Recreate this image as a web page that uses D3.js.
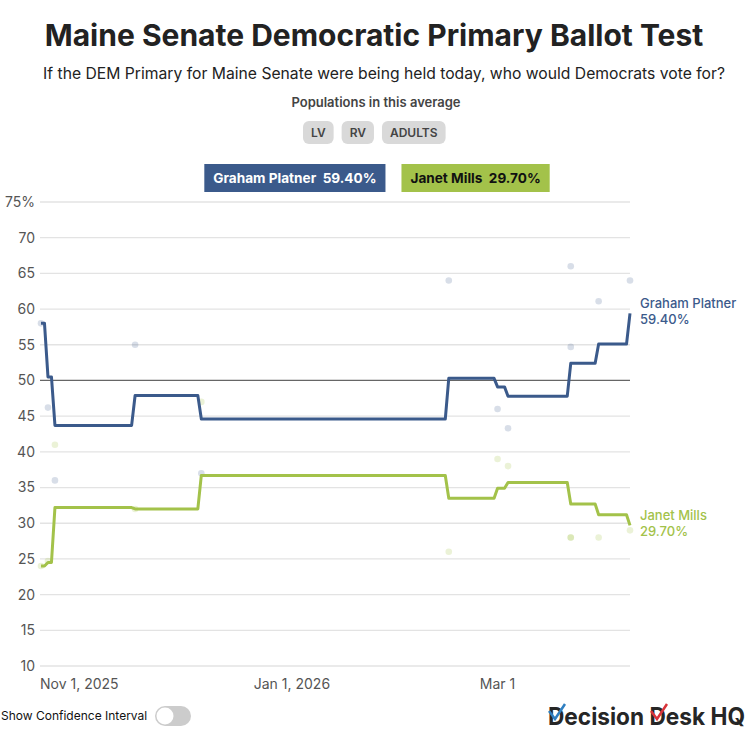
<!DOCTYPE html>
<html>
<head>
<meta charset="utf-8">
<script src="https://cdn.jsdelivr.net/npm/d3@7"></script>
<style>
  body { margin: 0; background: #fff; font-family: Inter, "Noto Sans", sans-serif; }
  svg text { font-family: Inter, "Noto Sans", sans-serif; }
</style>
</head>
<body>
<div id="chart"></div>
<script>
// data
var candidates = ['Graham Platner', 'Janet Mills'];
var finalValues = [59.40, 29.70];
var populations = ['LV', 'RV', 'ADULTS'];
var yTicks = [10, 15, 20, 25, 30, 35, 40, 45, 50, 55, 60, 65, 70, 75];
var xTicks = ['2025-11-01', '2026-01-01', '2026-03-01'];
var xTickLabels = ['Nov 1, 2025', 'Jan 1, 2026', 'Mar 1'];

var trendDates = ['2025-10-21', '2025-10-22', '2025-10-23', '2025-10-24', '2025-10-25',
    '2025-11-16', '2025-11-17', '2025-12-05', '2025-12-06', '2026-02-14', '2026-02-15',
    '2026-02-28', '2026-03-01', '2026-03-03', '2026-03-04', '2026-03-21', '2026-03-22',
    '2026-03-29', '2026-03-30', '2026-04-07', '2026-04-08'];
var platnerTrend = [58.0, 58.0, 50.5, 50.5, 43.7, 43.7, 47.9, 47.9, 44.6, 44.6, 50.3,
    50.3, 49.1, 49.1, 47.8, 47.8, 52.4, 52.4, 55.1, 55.1, 59.4];
var millsTrend = [24.0, 24.0, 24.5, 24.5, 32.2, 32.2, 32.0, 32.0, 36.7, 36.7, 33.5,
    33.5, 34.9, 34.9, 35.7, 35.7, 32.7, 32.7, 31.2, 31.2, 29.7];

var pollDates = ['2025-10-21', '2025-10-23', '2025-10-25', '2025-11-17', '2025-12-06',
    '2026-02-15', '2026-03-01', '2026-03-04', '2026-03-22', '2026-03-22', '2026-03-30', '2026-04-08'];
var platnerPolls = [58, 46.2, 36, 55, 37, 64, 46, 43.3, 66, 54.7, 61.1, 64];
var millsPolls = [24, 24.7, 41, 32, 47, 26, 39, 38, 28, 28, 28, 29];

var colors = ['#3b5a8b', '#a3c24a'];

var W = 752, H = 753;
var parse = d3.timeParse('%Y-%m-%d');

var svg = d3.select('#chart').append('svg')
    .attr('width', W).attr('height', H);

// header
svg.append('text')
    .attr('x', 374).attr('y', 46)
    .attr('text-anchor', 'middle')
    .style('font-size', '30px').style('font-weight', 700).style('fill', '#222')
    .text('Maine Senate Democratic Primary Ballot Test');

svg.append('text')
    .attr('x', 384).attr('y', 79)
    .attr('text-anchor', 'middle')
    .style('font-size', '15.7px').style('fill', '#222')
    .text('If the DEM Primary for Maine Senate were being held today, who would Democrats vote for?');

svg.append('text')
    .attr('x', W / 2).attr('y', 107)
    .attr('text-anchor', 'middle')
    .style('font-size', '13px').style('font-weight', 600).style('fill', '#444')
    .text('Populations in this average');

// population pills
var pillX = 303;
populations.forEach(function(p) {
    var g = svg.append('g');
    var t = g.append('text')
        .attr('y', 136.5)
        .attr('text-anchor', 'middle')
        .style('font-size', '12px').style('font-weight', 600).style('fill', '#444')
        .text(p);
    var w = t.node().getComputedTextLength() + 16;
    g.insert('rect', 'text')
        .attr('x', pillX).attr('y', 121)
        .attr('width', w).attr('height', 23)
        .attr('rx', 6).style('fill', '#d9d9d9');
    t.attr('x', pillX + w / 2);
    pillX += w + 8;
});

// legend boxes
var legend = svg.append('g');
var lx = 0;
candidates.forEach(function(c, i) {
    var g = legend.append('g');
    var t = g.append('text')
        .attr('y', 183)
        .style('font-size', '13.6px').style('font-weight', 700)
        .style('fill', i === 0 ? '#fff' : '#111')
        .attr('xml:space', 'preserve')
        .text(c + '  ' + finalValues[i].toFixed(2) + '%');
    var w = t.node().getComputedTextLength() + 18;
    g.insert('rect', 'text')
        .attr('x', lx).attr('y', 164)
        .attr('width', w).attr('height', 28)
        .style('fill', colors[i]);
    t.attr('x', lx + 9);
    lx += w + 16;
});
legend.attr('transform', 'translate(' + ((W - (lx - 16)) / 2 + 1) + ',0)');

// scales
var x = d3.scaleTime()
    .domain([parse(trendDates[0]), parse(trendDates[trendDates.length - 1])])
    .range([41, 630]);
var y = d3.scaleLinear().domain([10, 75]).range([666, 202]);

// grid
svg.append('g').selectAll('line')
    .data(yTicks)
    .join('line')
    .attr('x1', 40).attr('x2', 630)
    .attr('y1', function(d) { return y(d); })
    .attr('y2', function(d) { return y(d); })
    .style('stroke', function(d) { return d === 50 ? '#666' : '#e3e3e3'; })
    .style('stroke-width', function(d) { return d === 50 ? 1.2 : 1.3; });

// y axis labels
svg.append('g').selectAll('text')
    .data(yTicks)
    .join('text')
    .attr('x', 35)
    .attr('y', function(d) { return y(d); })
    .attr('dy', '0.35em')
    .attr('text-anchor', 'end')
    .style('font-size', '14px').style('fill', '#555')
    .text(function(d) { return d === 75 ? d + '%' : d; });

// x axis labels
svg.append('g').selectAll('text')
    .data(xTicks)
    .join('text')
    .attr('x', function(d) { return x(parse(d)); })
    .attr('y', 689)
    .attr('text-anchor', 'middle')
    .style('font-size', '14px').style('fill', '#555')
    .text(function(d, i) { return xTickLabels[i]; });

// poll dots
var pollSets = [platnerPolls, millsPolls];
pollSets.forEach(function(vals, i) {
    svg.append('g').selectAll('circle')
        .data(vals)
        .join('circle')
        .attr('cx', function(d, j) { return x(parse(pollDates[j])); })
        .attr('cy', function(d) { return y(d); })
        .attr('r', 3.3)
        .style('fill', colors[i])
        .style('opacity', i === 0 ? 0.2 : 0.22);
});

// trend lines
var line = d3.line()
    .x(function(d) { return x(d.date); })
    .y(function(d) { return y(d.value); });

var trends = [platnerTrend, millsTrend];
trends.forEach(function(vals, i) {
    var pts = vals.map(function(v, j) { return {date: parse(trendDates[j]), value: v}; });
    svg.append('path')
        .datum(pts)
        .attr('d', line)
        .style('fill', 'none')
        .style('stroke', colors[i])
        .style('stroke-width', 3)
        .style('stroke-linejoin', 'round');

    var last = pts[pts.length - 1];
    var ly = y(last.value);
    var lab = svg.append('text')
        .attr('x', 640)
        .style('font-size', '13px').style('font-weight', 500).style('fill', colors[i]);
    lab.append('tspan').attr('x', 640).attr('y', ly - 5).text(candidates[i]);
    lab.append('tspan').attr('x', 640).attr('y', ly + 11).text(finalValues[i].toFixed(2) + '%');
});

// footer: toggle
svg.append('text')
    .attr('x', 1).attr('y', 720)
    .style('font-size', '12px').style('fill', '#111')
    .text('Show Confidence Interval');
svg.append('rect')
    .attr('x', 155).attr('y', 706).attr('width', 36).attr('height', 20)
    .attr('rx', 10).style('fill', '#ccc');
svg.append('circle')
    .attr('cx', 165).attr('cy', 716).attr('r', 8.5)
    .style('fill', '#fff');

// footer: logo
var logo = svg.append('g');
logo.append('text')
    .attr('x', 548).attr('y', 725)
    .attr('textLength', 197).attr('lengthAdjust', 'spacingAndGlyphs')
    .style('font-size', '24px').style('font-weight', 700).style('fill', '#262626')
    .text('Decision Desk HQ');
logo.append('path')
    .attr('d', 'M549,711 L555,719 L565,704')
    .style('fill', 'none').style('stroke', '#2f7fc1').style('stroke-width', 2.5);
logo.append('path')
    .attr('d', 'M651,711 L657,719 L667,704')
    .style('fill', 'none').style('stroke', '#d8343a').style('stroke-width', 2.5);
</script>
</body>
</html>
